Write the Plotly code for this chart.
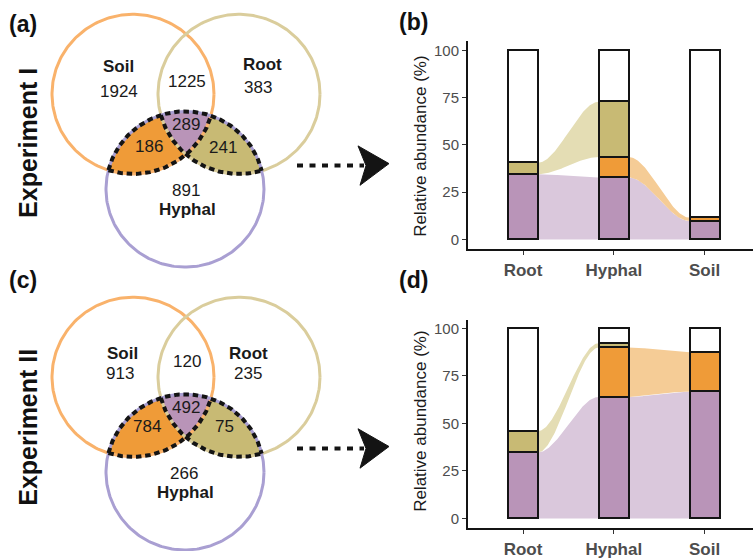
import numpy as np
import plotly.graph_objects as go

FIG_W, FIG_H = 753, 559
FONT = "Arial, Liberation Sans, sans-serif"

# ---------------- data ----------------
samples = ["Root", "Hyphal", "Soil"]
pct_ticks = [0, 25, 50, 75, 100]

# Relative abundance (%) of shared OTU groups in each compartment
exp1_all_three = [34.5, 32.8, 9.8]
exp1_soil_hyphal = [0.0, 10.8, 1.8]
exp1_root_hyphal = [6.1, 29.2, 0.0]

exp2_all_three = [34.8, 64.0, 66.8]
exp2_soil_hyphal = [0.0, 26.0, 20.7]
exp2_root_hyphal = [11.2, 2.3, 0.0]

# OTU counts per Venn region
venn_regions = ["soil", "soil_root", "root", "soil_hyphal", "all", "root_hyphal", "hyphal"]
exp1_counts = [1924, 1225, 383, 186, 289, 241, 891]
exp2_counts = [913, 120, 235, 784, 492, 75, 266]

# ---------------- styling ----------------
C_SOIL_LINE = "#F9B26B"
C_ROOT_LINE = "#DACD9C"
C_HYPH_LINE = "#A99FD2"
C_ORANGE = "#EF9B38"
C_KHAKI = "#C8BA74"
C_PURPLE = "#B994B8"
RIBBON = {"purple": "#DAC8DC", "orange": "#F5CC96", "khaki": "#E4DDB4"}
INK = "#141414"
GREY = "#4D4D4D"

BAR_W = 0.33
X_RANGE = [-0.606, 2.534]

fig = go.Figure()


# ---------------- Venn helpers (pixel canvas, y downwards) ----------------
def intersections(c1, r1, c2, r2):
    (x1, y1), (x2, y2) = c1, c2
    dx, dy = x2 - x1, y2 - y1
    d = np.hypot(dx, dy)
    a = (r1 * r1 - r2 * r2 + d * d) / (2 * d)
    h = np.sqrt(r1 * r1 - a * a)
    mx, my = x1 + a * dx / d, y1 + a * dy / d
    p = (mx + h * dy / d, my - h * dx / d)
    q = (mx - h * dy / d, my + h * dx / d)
    return sorted([p, q], key=lambda t: t[1])  # [upper, lower]


def arc(c, r, p0, p1, n=60):
    a0 = np.arctan2(p0[1] - c[1], p0[0] - c[0])
    a1 = np.arctan2(p1[1] - c[1], p1[0] - c[0])
    da = (a1 - a0 + np.pi) % (2 * np.pi) - np.pi
    ang = a0 + da * np.linspace(0, 1, n)
    return list(c[0] + r * np.cos(ang)), list(c[1] + r * np.sin(ang))


def join(*arcs):
    xs, ys = [], []
    for ax, ay in arcs:
        xs += ax
        ys += ay
    return xs, ys


def venn(dy, counts):
    S, R, H = (133, 95.5 + dy), (239, 95.5 + dy), (185, 192 + dy)
    rs, rr, rh = 81, 81, 79
    sh_top, sh_low = intersections(S, rs, H, rh)
    rh_top, rh_low = intersections(R, rr, H, rh)
    _, sr_low = intersections(S, rs, R, rr)

    regions = [
        (join(arc(H, rh, sh_low, rh_top), arc(R, rr, rh_top, sr_low), arc(S, rs, sr_low, sh_low)), C_ORANGE),
        (join(arc(H, rh, rh_top, sh_top), arc(S, rs, sh_top, sr_low), arc(R, rr, sr_low, rh_top)), C_PURPLE),
        (join(arc(H, rh, sh_top, rh_low), arc(R, rr, rh_low, sr_low), arc(S, rs, sr_low, sh_top)), C_KHAKI),
    ]
    for (xs, ys), col in regions:
        fig.add_trace(go.Scatter(x=xs, y=ys, xaxis="x5", yaxis="y5", mode="lines",
                                 fill="toself", fillcolor=col, line=dict(width=0),
                                 hoverinfo="skip", showlegend=False))

    t = np.linspace(0, 2 * np.pi, 240)
    for c, r, col in [(S, rs, C_SOIL_LINE), (R, rr, C_ROOT_LINE), (H, rh, C_HYPH_LINE)]:
        fig.add_trace(go.Scatter(x=c[0] + r * np.cos(t), y=c[1] + r * np.sin(t),
                                 xaxis="x5", yaxis="y5", mode="lines",
                                 line=dict(color=col, width=3), hoverinfo="skip",
                                 showlegend=False))

    for xs, ys in [arc(H, rh, sh_low, rh_low, 120), arc(S, rs, sh_low, sh_top, 90),
                   arc(R, rr, rh_top, rh_low, 90)]:
        fig.add_trace(go.Scatter(x=xs, y=ys, xaxis="x5", yaxis="y5", mode="lines",
                                 line=dict(color=INK, width=4, dash="5.5px,3.8px"),
                                 hoverinfo="skip", showlegend=False))

    # arrow towards the abundance panel
    ay = 168 + dy
    fig.add_trace(go.Scatter(x=[297, 364], y=[ay, ay], xaxis="x5", yaxis="y5", mode="lines",
                             line=dict(color=INK, width=4, dash="6px,6.5px"),
                             hoverinfo="skip", showlegend=False))
    fig.add_trace(go.Scatter(x=[389, 358, 366, 360, 389], y=[ay - 2, ay - 20, ay, ay + 20, ay - 2],
                             xaxis="x5", yaxis="y5", mode="lines", fill="toself",
                             fillcolor=INK, line=dict(color=INK, width=1),
                             hoverinfo="skip", showlegend=False))


def venn_text(pos, text, bold=False):
    fig.add_annotation(x=pos[0], y=pos[1], xref="x5", yref="y5", text=text, showarrow=False,
                       xanchor="center", yanchor="middle",
                       font=dict(family=FONT, size=17, color="#1a1a1a",
                                 weight="bold" if bold else "normal"))


venn(0, exp1_counts)
venn(287, exp2_counts)

count_pos_1 = [(119, 93), (187, 83), (258, 89), (149, 149), (186, 126), (223, 150), (186, 193)]
count_pos_2 = [(120, 379), (187, 367), (248, 379), (147, 433), (186, 413), (224, 433), (184, 480)]
for pos, n in zip(count_pos_1, exp1_counts):
    venn_text(pos, str(n))
for pos, n in zip(count_pos_2, exp2_counts):
    venn_text(pos, str(n))

for (sx, sy), (rx, ry), (hx, hy) in [((118, 67), (262, 65), (187, 213)),
                                     ((122, 359), (248, 359), (185, 500))]:
    venn_text((sx, sy), "Soil", True)
    venn_text((rx, ry), "Root", True)
    venn_text((hx, hy), "Hyphal", True)


# ---------------- stacked bars + flows ----------------
def smooth(t):
    return t * t * (3 - 2 * t)


def abundance(layers, xa, ya, xb, yb):
    names = ["purple", "orange", "khaki"]
    cols = [C_PURPLE, C_ORANGE, C_KHAKI]
    # flows between neighbouring compartments
    for i in range(len(samples) - 1):
        for g, vals in enumerate(layers):
            if vals[i] > 0 and vals[i + 1] > 0:
                b0 = sum(l[i] for l in layers[:g])
                b1 = sum(l[i + 1] for l in layers[:g])
                t0, t1 = b0 + vals[i], b1 + vals[i + 1]
                t = np.linspace(0, 1, 80)
                s = smooth(t)
                xs = i + BAR_W / 2 + (1 - BAR_W) * t
                top = t0 + (t1 - t0) * s
                bot = b0 + (b1 - b0) * s
                fig.add_trace(go.Scatter(x=np.r_[xs, xs[::-1]], y=np.r_[top, bot[::-1]],
                                         xaxis=xa, yaxis=ya, mode="lines", fill="toself",
                                         fillcolor=RIBBON[names[g]], line=dict(width=0),
                                         hoverinfo="skip", showlegend=False))
    other = [100 - sum(l[i] for l in layers) for i in range(len(samples))]
    for vals, col in list(zip(layers, cols)) + [(other, "white")]:
        fig.add_trace(go.Bar(x=list(range(len(samples))), y=[v if v > 0 else None for v in vals],
                             width=BAR_W, xaxis=xb, yaxis=yb,
                             marker=dict(color=col, line=dict(color=INK, width=2.3)),
                             hoverinfo="skip", showlegend=False))


abundance([exp1_all_three, exp1_soil_hyphal, exp1_root_hyphal], "x", "y", "x3", "y3")
abundance([exp2_all_three, exp2_soil_hyphal, exp2_root_hyphal], "x2", "y2", "x4", "y4")

X_DOM = [468 / FIG_W, 1.0]
Y_DOM_B = [(FIG_H - 253) / FIG_H, (FIG_H - 42) / FIG_H]
Y_DOM_D = [(FIG_H - 536) / FIG_H, (FIG_H - 325) / FIG_H]
YR_B = [-5.2, 104.7]
YR_D = [-5.2, 104.3]

xcommon = dict(range=X_RANGE, tickvals=list(range(len(samples))), ticktext=samples,
               showline=True, linecolor=INK, linewidth=2, ticks="outside", ticklen=4,
               tickcolor="#333333", showgrid=False, zeroline=False, fixedrange=True,
               tickfont=dict(family=FONT, size=17, color=GREY, weight="bold"))
ycommon = dict(tickvals=pct_ticks, showline=True, linecolor=INK, linewidth=2,
               ticks="outside", ticklen=4, tickcolor="#333333", showgrid=False,
               zeroline=False, fixedrange=True,
               tickfont=dict(family=FONT, size=15, color=GREY))
hidden = dict(visible=False, showgrid=False, zeroline=False, fixedrange=True)

fig.update_layout(
    width=FIG_W, height=FIG_H,
    margin=dict(l=0, r=0, t=0, b=0),
    paper_bgcolor="white", plot_bgcolor="rgba(0,0,0,0)",
    barmode="stack", bargap=0,
    xaxis=dict(domain=X_DOM, anchor="y", **xcommon),
    yaxis=dict(domain=Y_DOM_B, anchor="x", range=YR_B, **ycommon),
    xaxis2=dict(domain=X_DOM, anchor="y2", **xcommon),
    yaxis2=dict(domain=Y_DOM_D, anchor="x2", range=YR_D, **ycommon),
    xaxis3=dict(overlaying="x", anchor="y3", range=X_RANGE, **hidden),
    yaxis3=dict(overlaying="y", anchor="x3", range=YR_B, **hidden),
    xaxis4=dict(overlaying="x2", anchor="y4", range=X_RANGE, **hidden),
    yaxis4=dict(overlaying="y2", anchor="x4", range=YR_D, **hidden),
    xaxis5=dict(domain=[0, 1], anchor="y5", range=[0, FIG_W], **hidden),
    yaxis5=dict(domain=[0, 1], anchor="x5", range=[FIG_H, 0], **hidden),
)

# axis titles
for yc in (149, 428):
    fig.add_annotation(x=421, y=yc, xref="x5", yref="y5", text="Relative abundance (%)",
                       textangle=-90, showarrow=False, xanchor="center", yanchor="middle",
                       font=dict(family=FONT, size=17, color="#1a1a1a"))

# panel labels and experiment names
for txt, x, y in [("(a)", 23, 24), ("(b)", 413, 22), ("(c)", 23, 284), ("(d)", 413, 284)]:
    fig.add_annotation(x=x, y=y, xref="x5", yref="y5", text=txt, showarrow=False,
                       xanchor="center", yanchor="middle",
                       font=dict(family=FONT, size=23, color="#111111", weight="bold"))
for txt, y in [("Experiment I", 145), ("Experiment II", 434)]:
    fig.add_annotation(x=28, y=y, xref="x5", yref="y5", text=txt, textangle=-90,
                       showarrow=False, xanchor="center", yanchor="middle",
                       font=dict(family=FONT, size=25, color="#111111", weight="bold"))

fig.write_html("out.html")
